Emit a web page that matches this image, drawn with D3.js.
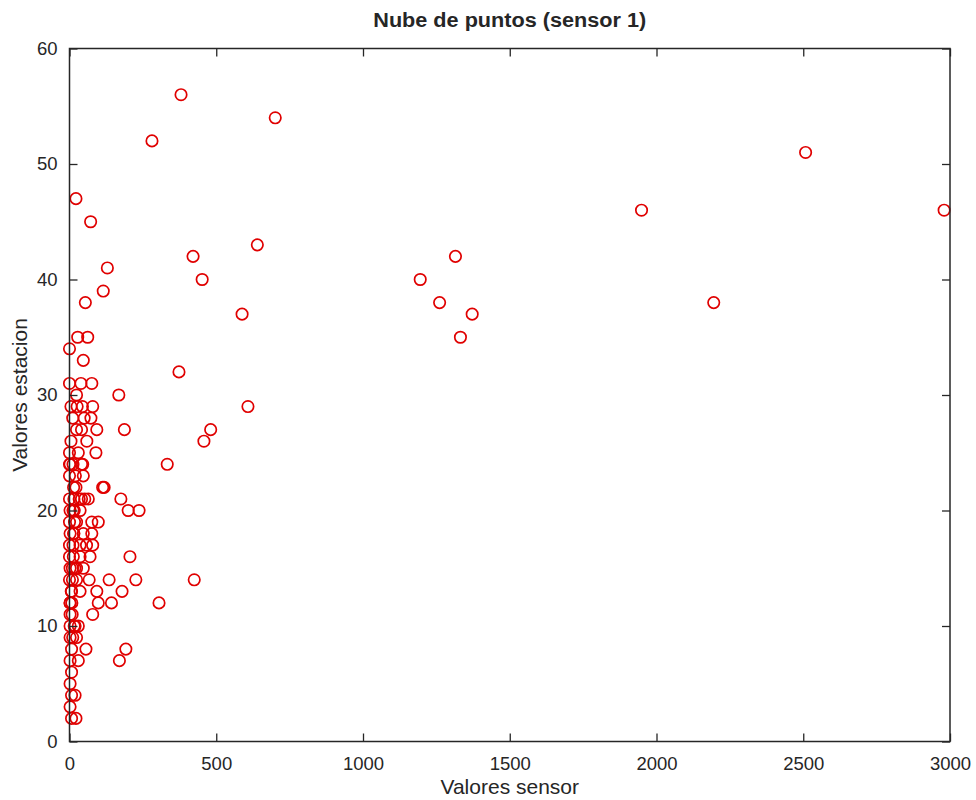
<!DOCTYPE html>
<html>
<head>
<meta charset="utf-8">
<script src="https://cdn.jsdelivr.net/npm/d3@7"></script>
<style>
  body { margin: 0; background: #fff; }
  text { font-family: "Liberation Sans", Arial, sans-serif; fill: #262626; }
</style>
</head>
<body>
<svg id="chart" width="976" height="800"></svg>
<script>
// values
var sensor = [380, 701, 281, 2508, 22, 1949, 2980, 72, 421, 640, 129, 452, 1195, 1315,
  115, 54, 1261, 2195, 588, 1372, 1332,
  373, 168, 608, 187, 481, 458, 333, 118, 175, 200, 237, 206, 135, 226, 425, 179, 143, 305, 192, 170,
  28, 62, 0, 47, 0, 39, 76, 24, 5, 44, 79, 11, 50, 73, 24, 41, 93, 5, 59, 0, 30, 90, 0, 41,
  2, 45, 0, 47, 22, 113, 0, 41, 64, 2, 36, 0, 24, 98, 76, 2, 47, 76, 0, 36, 79, 0, 36, 70,
  2, 24, 47, 0, 24, 67, 7, 36, 93, 2, 98,
  2, 2, 79, 2, 30, 2, 24, 7, 56, 2, 30, 7, 2, 7, 19, 2, 7, 22,
  12, 15, 18, 10, 14, 8, 16, 12, 20, 9, 13, 17, 11, 15, 6, 14, 19, 10, 12, 16, 33, 52, 58, 26];
var estacion = [56, 54, 52, 51, 47, 46, 46, 45, 42, 43, 41, 40, 40, 42,
  39, 38, 38, 38, 37, 37, 35,
  32, 30, 29, 27, 27, 26, 24, 22, 21, 20, 20, 16, 14, 14, 14, 13, 12, 12, 8, 7,
  35, 35, 34, 33, 31, 31, 31, 30, 29, 29, 29, 28, 28, 28, 27, 27, 27, 26, 26, 25, 25, 25, 24, 24,
  24, 24, 23, 23, 22, 22, 21, 21, 21, 20, 20, 19, 19, 19, 19, 18, 18, 18, 17, 17, 17, 16, 16, 16,
  15, 15, 15, 14, 14, 14, 13, 13, 13, 12, 12,
  12, 11, 11, 10, 10, 9, 9, 8, 8, 7, 7, 6, 5, 4, 4, 3, 2, 2,
  20, 18, 15, 14, 22, 12, 10, 17, 23, 11, 16, 19, 9, 21, 13, 18, 10, 15, 24, 20, 21, 21, 17, 29];
var xTicks = [0, 500, 1000, 1500, 2000, 2500, 3000];
var yTicks = [0, 10, 20, 30, 40, 50, 60];

var svg = d3.select("#chart");
var mLeft = 69.5, mRight = 950, mTop = 48.5, mBottom = 741.5;

var x = d3.scaleLinear().domain([0, 3000]).range([mLeft, mRight]);
var y = d3.scaleLinear().domain([0, 60]).range([mBottom, mTop]);

// points first so the axes sit on top
var pts = d3.range(sensor.length).map(function(i){ return [sensor[i], estacion[i]]; });
svg.append("g").selectAll("circle").data(pts).enter().append("circle")
    .attr("cx", function(d){ return x(d[0]); })
    .attr("cy", function(d){ return y(d[1]); })
    .attr("r", 5.7)
    .attr("fill", "none")
    .attr("stroke", "#e00000")
    .attr("stroke-width", 1.7);

var axisColor = "#262626";
function styleAxis(g) {
    g.select(".domain").remove();
    g.selectAll(".tick line").attr("stroke", axisColor).attr("stroke-width", 1.3);
    g.selectAll(".tick text").attr("font-size", 18.5).attr("fill", "#333");
}

svg.append("g").attr("transform", "translate(0," + mBottom + ")")
    .call(d3.axisBottom(x).tickValues(xTicks).tickSizeInner(-8).tickSizeOuter(0).tickPadding(15).tickFormat(d3.format("d")))
    .call(styleAxis);
svg.append("g").attr("transform", "translate(0," + mTop + ")")
    .call(d3.axisTop(x).tickValues(xTicks).tickSizeInner(-8).tickSizeOuter(0).tickFormat(""))
    .call(styleAxis);
svg.append("g").attr("transform", "translate(" + mLeft + ",0)")
    .call(d3.axisLeft(y).tickValues(yTicks).tickSizeInner(-8).tickSizeOuter(0).tickPadding(12).tickFormat(d3.format("d")))
    .call(styleAxis);
svg.append("g").attr("transform", "translate(" + mRight + ",0)")
    .call(d3.axisRight(y).tickValues(yTicks).tickSizeInner(-8).tickSizeOuter(0).tickFormat(""))
    .call(styleAxis);

// box
svg.append("rect")
    .attr("x", mLeft).attr("y", mTop)
    .attr("width", mRight - mLeft).attr("height", mBottom - mTop)
    .attr("fill", "none").attr("stroke", axisColor).attr("stroke-width", 1.5);

svg.append("text")
    .attr("x", (mLeft + mRight) / 2).attr("y", 27)
    .attr("text-anchor", "middle")
    .attr("font-size", 19.5).attr("font-weight", "bold")
    .attr("fill", "#000")
    .attr("textLength", 273).attr("lengthAdjust", "spacingAndGlyphs")
    .text("Nube de puntos (sensor 1)");

svg.append("text")
    .attr("x", (mLeft + mRight) / 2).attr("y", 794)
    .attr("text-anchor", "middle")
    .attr("font-size", 21)
    .attr("fill", "#333")
    .text("Valores sensor");

svg.append("text")
    .attr("transform", "translate(27," + (mTop + mBottom) / 2 + ") rotate(-90)")
    .attr("text-anchor", "middle")
    .attr("font-size", 21)
    .attr("fill", "#333")
    .text("Valores estacion");
</script>
</body>
</html>
